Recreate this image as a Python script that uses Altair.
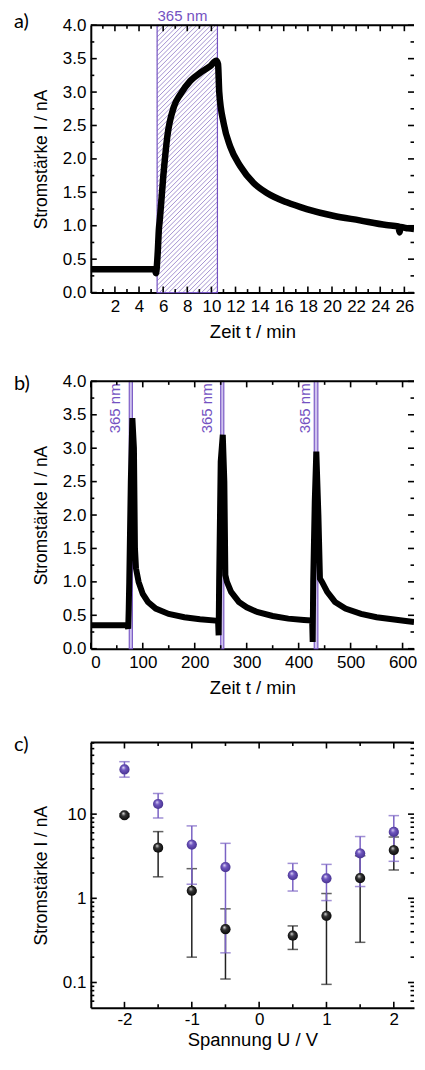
import altair as alt
import pandas as pd

PURPLE = "#7452c2"
HATCH = "#9a86cc"
W = 324
HA, HB, HC = 268, 268, 266
FONT = "Liberation Sans"

# ---------------- panel a data ----------------
a_time = [0, 1, 2, 3, 4, 5, 5.3, 5.4, 5.55, 5.65, 5.7, 6.06, 6.34, 6.89, 7.44, 8.26, 9.09,
          9.92, 10.41, 10.55, 10.65, 11.02, 11.57, 12.4, 13.5, 14.6, 16.25, 17.9, 20.1,
          22.3, 24.5, 25.5, 25.6, 25.7, 26.3, 26.8]
a_curr = [0.35, 0.35, 0.35, 0.35, 0.35, 0.35, 0.35, 0.29, 0.6, 0.96, 1.05, 1.84, 2.33,
          2.78, 2.97, 3.17, 3.29, 3.39, 3.47, 3.42, 3.0, 2.53, 2.18, 1.89, 1.64, 1.49,
          1.35, 1.25, 1.15, 1.08, 1.01, 0.99, 0.90, 0.98, 0.96, 0.95]
a_light = [5.5, 10.5]
a_xmax = 26.8
a_xlabels = [2, 4, 6, 8, 10, 12, 14, 16, 18, 20, 22, 24, 26]
a_xminor = [1, 3, 5, 7, 9, 11, 13, 15, 17, 19, 21, 23, 25]
y_major = [0, 0.5, 1, 1.5, 2, 2.5, 3, 3.5, 4]
y_minor = [0.25, 0.75, 1.25, 1.75, 2.25, 2.75, 3.25, 3.75]

# ---------------- panel b data ----------------
b_time = [0, 30, 70, 72, 73, 74, 77, 80, 83, 85, 87, 92, 100, 110, 125, 150, 180, 210, 240,
          245, 246, 247, 250, 254, 257, 259, 262, 270, 285, 300, 320, 350, 380, 410, 426,
          427, 428, 431, 434, 438, 441, 445, 455, 470, 490, 520, 550, 580, 610, 622]
b_curr = [0.35, 0.35, 0.35, 0.3, 0.6, 1.0, 2.5, 3.45, 3.0, 1.5, 1.2, 1.0, 0.82, 0.7, 0.6,
          0.52, 0.47, 0.44, 0.42, 0.41, 0.2, 1.0, 2.8, 3.2, 2.5, 1.1, 1.0, 0.85, 0.7, 0.62,
          0.55, 0.49, 0.45, 0.43, 0.42, 0.1, 1.0, 2.2, 2.95, 2.0, 1.05, 1.0, 0.85, 0.7,
          0.6, 0.52, 0.47, 0.44, 0.41, 0.40]
b_band_start = [74, 250, 430]
b_band_end = [80, 256, 437]
b_label_x = [62.6, 238.6, 427]
b_xmax = 622
b_xlabels = [0, 100, 200, 300, 400, 500, 600]
b_xminor = [50, 150, 250, 350, 450, 550]

# ---------------- panel c data ----------------
c_volt = [-2, -1.5, -1, -0.5, 0.5, 1, 1.5, 2]
c_purple = [34, 13.2, 4.35, 2.35, 1.88, 1.73, 3.42, 6.15]
c_purple_lo = [27.5, 9.0, 1.47, 0.225, 1.22, 0.94, 1.38, 2.75]
c_purple_hi = [42, 17.6, 7.25, 4.5, 2.6, 2.53, 5.42, 9.6]
c_black = [9.7, 4.0, 1.23, 0.43, 0.36, 0.62, 1.74, 3.74]
c_black_lo = [9.3, 1.8, 0.2, 0.11, 0.247, 0.095, 0.3, 2.17]
c_black_hi = [10.1, 6.2, 2.25, 0.75, 0.47, 1.14, 3.2, 5.35]
c_xdomain = [-2.5, 2.3]
c_ydomain = [0.05, 71]
c_xlabels = [-2, -1, 0, 1, 2]
c_xminor = [-1.5, -0.5, 0.5, 1.5]
c_ymajor = [0.1, 1, 10]
c_yminor = [0.06, 0.07, 0.08, 0.09, 0.2, 0.3, 0.4, 0.5, 0.6, 0.7, 0.8, 0.9,
            2, 3, 4, 5, 6, 7, 8, 9, 20, 30, 40, 50, 60, 70]

TMAJ, TMIN = 6, 3.5


def frame_ticks(H, xs, xax, xmaj, xmin, ys, yax, ymaj, ymin):
    layers = []
    for vals, ln in ((xmaj, TMAJ), (xmin, TMIN)):
        d = pd.DataFrame({"v": vals})
        layers.append(alt.Chart(d).mark_rule(color="black", strokeWidth=1.6).encode(
            x=alt.X("v:Q", scale=xs, axis=xax), y=alt.value(0), y2=alt.value(ln)))
        layers.append(alt.Chart(d).mark_rule(color="black", strokeWidth=1.6).encode(
            x=alt.X("v:Q", scale=xs, axis=xax), y=alt.value(H - ln), y2=alt.value(H)))
    for vals, ln in ((ymaj, TMAJ), (ymin, TMIN)):
        d = pd.DataFrame({"v": vals})
        layers.append(alt.Chart(d).mark_rule(color="black", strokeWidth=1.6).encode(
            y=alt.Y("v:Q", scale=ys, axis=yax), x=alt.value(0), x2=alt.value(ln)))
        layers.append(alt.Chart(d).mark_rule(color="black", strokeWidth=1.6).encode(
            y=alt.Y("v:Q", scale=ys, axis=yax), x=alt.value(W - ln), x2=alt.value(W)))
    layers.append(alt.Chart(pd.DataFrame({"v": [0]})).mark_rule(color="black", strokeWidth=2).encode(
        x=alt.value(0), x2=alt.value(W), y=alt.value(0)))
    return layers


def panel_label(txt, yoff):
    return alt.Chart(pd.DataFrame({"t": [txt]})).mark_text(
        align="left", baseline="middle", font="Lato", fontSize=20, color="black"
    ).encode(x=alt.value(-77), y=alt.value(yoff), text="t:N")


ylab_axis = dict(title="Stromstärke I / nA", titlePadding=12, labelPadding=5, titleFontSize=17.5)

# ================= panel a =================
xs_a = alt.Scale(domain=[0, a_xmax], nice=False, zero=False)
ys_ab = alt.Scale(domain=[0, 4], nice=False)
ax_a = alt.Axis(values=a_xlabels, format="d", title="Zeit t / min", labelPadding=6, titlePadding=8)
ay_ab = alt.Axis(values=y_major, format=".1f", **ylab_axis)

sx_a = W / a_xmax
sy_a = HA / 4.0
hatch_rows = []
L, R = a_light[0] * sx_a, a_light[1] * sx_a
step = 4.7
c = L + step / 2
while c < R + HA:
    p1 = max(L, c - HA)
    p2 = min(R, c)
    hatch_rows.append(dict(hx=p1 / sx_a, hy=4 - (c - p1) / sy_a,
                           hx2=p2 / sx_a, hy2=4 - (c - p2) / sy_a))
    c += step
hatch_df = pd.DataFrame(hatch_rows)

a_df = pd.DataFrame({"t": a_time, "i": a_curr})
light_df = pd.DataFrame({"x0": [a_light[0]], "x1": [a_light[1]], "y0": [0], "y1": [4]})

a_hatch = alt.Chart(hatch_df).mark_rule(color=HATCH, strokeWidth=0.9).encode(
    x=alt.X("hx:Q", scale=xs_a, axis=ax_a), y=alt.Y("hy:Q", scale=ys_ab, axis=ay_ab),
    x2="hx2:Q", y2="hy2:Q")
a_box = alt.Chart(light_df).mark_rect(fill=None, stroke=PURPLE, strokeWidth=1.2, fillOpacity=0).encode(
    x=alt.X("x0:Q", scale=xs_a, axis=ax_a), x2="x1:Q",
    y=alt.Y("y0:Q", scale=ys_ab, axis=ay_ab), y2="y1:Q")
a_line = alt.Chart(a_df).mark_line(color="black", strokeWidth=6.5, interpolate="monotone", clip=True).encode(
    x=alt.X("t:Q", scale=xs_a, axis=ax_a), y=alt.Y("i:Q", scale=ys_ab, axis=ay_ab))
a_txt = alt.Chart(pd.DataFrame({"x": [7.6], "t": ["365 nm"]})).mark_text(
    font=FONT, fontSize=15, color=PURPLE, baseline="middle", align="center"
).encode(x=alt.X("x:Q", scale=xs_a, axis=ax_a), y=alt.value(-9), text="t:N")

chart_a = alt.layer(
    a_hatch, a_box, a_line, a_txt,
    *frame_ticks(HA, xs_a, ax_a, a_xlabels, a_xminor, ys_ab, ay_ab, y_major, y_minor),
    panel_label("a)", -3),
).properties(width=W, height=HA)

# ================= panel b =================
xs_b = alt.Scale(domain=[0, b_xmax], nice=False, zero=False)
ax_b = alt.Axis(values=b_xlabels, format="d", title="Zeit t / min", labelPadding=6, titlePadding=8)
b_df = pd.DataFrame({"t": b_time, "i": b_curr})
band_df = pd.DataFrame({"x0": b_band_start, "x1": b_band_end, "y0": [0] * 3, "y1": [4] * 3})
lab_df = pd.DataFrame({"x": b_label_x, "y": [3.97] * 3, "t": ["365 nm"] * 3})

b_band = alt.Chart(band_df).mark_rect(fill="#cfc3ee", stroke=PURPLE, strokeWidth=1.1).encode(
    x=alt.X("x0:Q", scale=xs_b, axis=ax_b), x2="x1:Q",
    y=alt.Y("y0:Q", scale=ys_ab, axis=ay_ab), y2="y1:Q")
b_line = alt.Chart(b_df).mark_line(color="black", strokeWidth=6, interpolate="linear", clip=True).encode(
    x=alt.X("t:Q", scale=xs_b, axis=ax_b), y=alt.Y("i:Q", scale=ys_ab, axis=ay_ab))
b_txt = alt.Chart(lab_df).mark_text(
    font=FONT, fontSize=15, color=PURPLE, angle=270, align="right", baseline="bottom"
).encode(x=alt.X("x:Q", scale=xs_b, axis=ax_b), y=alt.Y("y:Q", scale=ys_ab, axis=ay_ab), text="t:N")

chart_b = alt.layer(
    b_band, b_line, b_txt,
    *frame_ticks(HB, xs_b, ax_b, b_xlabels, b_xminor, ys_ab, ay_ab, y_major, y_minor),
    panel_label("b)", 3),
).properties(width=W, height=HB)

# ================= panel c =================
xs_c = alt.Scale(domain=c_xdomain, nice=False, zero=False)
ys_c = alt.Scale(type="log", domain=c_ydomain, nice=False)
ax_c = alt.Axis(values=c_xlabels, labelExpr="'' + datum.value", title="Spannung U / V",
                labelPadding=4, titlePadding=3)
ay_c = alt.Axis(values=c_ymajor, labelExpr="'' + datum.value", **ylab_axis)

c_df = pd.DataFrame({"u": c_volt, "p": c_purple, "plo": c_purple_lo, "phi": c_purple_hi,
                     "b": c_black, "blo": c_black_lo, "bhi": c_black_hi})

X = alt.X("u:Q", scale=xs_c, axis=ax_c)


def Yc(f):
    return alt.Y(f, scale=ys_c, axis=ay_c)


cap = "M-1,0L1,0"


def errs(lo, hi, color):
    r = alt.Chart(c_df).mark_rule(color=color, strokeWidth=1.5).encode(x=X, y=Yc(lo + ":Q"), y2=hi + ":Q")
    c1 = alt.Chart(c_df).mark_point(shape=cap, size=110, color=color, strokeWidth=1.5, filled=False).encode(
        x=X, y=Yc(lo + ":Q"))
    c2 = alt.Chart(c_df).mark_point(shape=cap, size=110, color=color, strokeWidth=1.5, filled=False).encode(
        x=X, y=Yc(hi + ":Q"))
    return [r, c1, c2]


def balls(f, light, mid, dark):
    grad = alt.RadialGradient(
        gradient="radial",
        stops=[alt.GradientStop(offset=0, color=light),
               alt.GradientStop(offset=0.35, color=mid),
               alt.GradientStop(offset=1, color=dark)],
        x1=0.38, y1=0.3, r1=0, x2=0.5, y2=0.5, r2=0.6)
    return alt.Chart(c_df).mark_circle(size=105, opacity=1, fill=grad).encode(x=X, y=Yc(f + ":Q"))


# white spacer above panel c (keeps the gap to panel b as in the original)
c_spacer = alt.Chart(pd.DataFrame({"v": [0]})).mark_rule(color="white", strokeWidth=1).encode(
    x=alt.value(-77), x2=alt.value(-72), y=alt.value(-13))

chart_c = alt.layer(
    c_spacer,
    *errs("blo", "bhi", "#222222"),
    *errs("plo", "phi", "#7a62c4"),
    balls("b", "#e8e8e8", "#333333", "#000000"),
    balls("p", "#e6defa", "#7158c0", "#3e2a86"),
    *frame_ticks(HC, xs_c, ax_c, c_xlabels, c_xminor, ys_c, ay_c, c_ymajor, c_yminor),
    panel_label("c)", 3),
).properties(width=W, height=HC)

chart = alt.vconcat(chart_a, chart_b, chart_c, spacing=31).properties(
    padding={"left": 5, "top": 0, "right": 0, "bottom": 0}
).configure_view(stroke=None).configure_axis(
    labelFont=FONT, labelFontSize=17, labelColor="black",
    titleFont=FONT, titleFontSize=18.5, titleColor="black", titleFontWeight="normal",
    domainColor="black", domainWidth=2, ticks=False, grid=False
)

chart.save("out.html", embed_options={"renderer": "svg", "actions": False})
